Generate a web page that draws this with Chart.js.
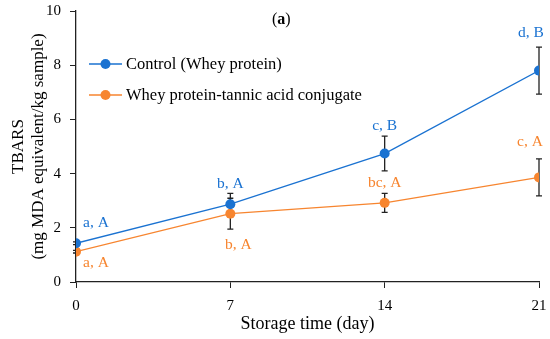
<!DOCTYPE html>
<html>
<head>
<meta charset="utf-8">
<title>TBARS vs storage time</title>
<script src="https://cdn.jsdelivr.net/npm/chart.js"></script>
<style>
  body { margin: 0; background: #fff; }
  .wrap { position: relative; width: 550px; height: 339px; }
</style>
</head>
<body>
<div class="wrap"><canvas id="tbars"></canvas></div>
<script>
// values
const days = [0, 7, 14, 21];
const controlMean = [1.43, 2.87, 4.74, 7.80];
const controlErr = [0.05, 0.40, 0.64, 0.87];
const conjugateMean = [1.12, 2.52, 2.92, 3.86];
const conjugateErr = [0.05, 0.57, 0.35, 0.68];
const controlLetters = ['a, A', 'b, A', 'c, B', 'd, B'];
const conjugateLetters = ['a, A', 'b, A', 'bc, A', 'c, A'];
const seriesNames = ['Control (Whey protein)', 'Whey protein-tannic acid conjugate'];
const yTicks = [0, 2, 4, 6, 8, 10];

const BLUE = '#1a72d1';
const ORANGE = '#f7852f';
const FONT = "'Liberation Serif', 'Times New Roman', serif";

// where each letter label sits relative to its point
const controlPlace = [[7, -20, 'left'], [0, -20, 'center'], [0, -28, 'center'], [-8, -38, 'center']];
const conjugatePlace = [[7, 11, 'left'], [8, 31, 'center'], [0, -20, 'center'], [-9, -35, 'center']];

const errPlugin = {
  id: 'errBars',
  beforeDatasetsDraw(chart) {
    const ctx = chart.ctx, xs = chart.scales.x, ys = chart.scales.y;
    const sets = [[controlMean, controlErr], [conjugateMean, conjugateErr]];
    ctx.save();
    ctx.strokeStyle = '#222';
    ctx.lineWidth = 1.3;
    sets.forEach(([m, e]) => {
      days.forEach((d, i) => {
        const x = xs.getPixelForValue(d);
        const yt = ys.getPixelForValue(m[i] + e[i]);
        const yb = ys.getPixelForValue(m[i] - e[i]);
        ctx.beginPath();
        ctx.moveTo(x, yt); ctx.lineTo(x, yb);
        ctx.moveTo(x - 3, yt); ctx.lineTo(x + 3, yt);
        ctx.moveTo(x - 3, yb); ctx.lineTo(x + 3, yb);
        ctx.stroke();
      });
    });
    ctx.restore();
  },
  afterDatasetsDraw(chart) {
    const ctx = chart.ctx, xs = chart.scales.x, ys = chart.scales.y;
    ctx.save();
    ctx.font = '15.5px ' + FONT;
    ctx.textBaseline = 'middle';
    const drawLetters = (m, letters, place, color) => {
      ctx.fillStyle = color;
      days.forEach((d, i) => {
        const [dx, dy, al] = place[i];
        ctx.textAlign = al;
        ctx.fillText(letters[i], xs.getPixelForValue(d) + dx, ys.getPixelForValue(m[i]) + dy);
      });
    };
    drawLetters(controlMean, controlLetters, controlPlace, BLUE);
    drawLetters(conjugateMean, conjugateLetters, conjugatePlace, ORANGE);

    // legend: line with marker, inside plot
    const colors = [BLUE, ORANGE];
    const rows = [64, 95];
    ctx.textAlign = 'left';
    ctx.font = '16.5px ' + FONT;
    seriesNames.forEach((name, i) => {
      ctx.strokeStyle = colors[i];
      ctx.lineWidth = 1.3;
      ctx.beginPath();
      ctx.moveTo(89, rows[i]); ctx.lineTo(122, rows[i]);
      ctx.stroke();
      ctx.fillStyle = colors[i];
      ctx.beginPath();
      ctx.arc(105.5, rows[i], 5, 0, Math.PI * 2);
      ctx.fill();
      ctx.fillStyle = '#000';
      ctx.fillText(name, 126, rows[i] + 1);
    });

    // panel label (a)
    ctx.fillStyle = '#000';
    ctx.font = '16px ' + FONT;
    const w1 = ctx.measureText('(').width;
    ctx.fillText('(', 272, 20);
    ctx.font = 'bold 16px ' + FONT;
    const w2 = ctx.measureText('a').width;
    ctx.fillText('a', 272 + w1, 20);
    ctx.font = '16px ' + FONT;
    ctx.fillText(')', 272 + w1 + w2, 20);
    ctx.restore();
  }
};

new Chart(document.getElementById('tbars'), {
  type: 'line',
  data: {
    datasets: [
      { label: seriesNames[0], data: days.map((d, i) => ({ x: d, y: controlMean[i] })),
        borderColor: BLUE, backgroundColor: BLUE, borderWidth: 1.3, pointRadius: 5, pointBorderWidth: 0, tension: 0 },
      { label: seriesNames[1], data: days.map((d, i) => ({ x: d, y: conjugateMean[i] })),
        borderColor: ORANGE, backgroundColor: ORANGE, borderWidth: 1.3, pointRadius: 5, pointBorderWidth: 0, tension: 0 }
    ]
  },
  options: {
    responsive: true,
    maintainAspectRatio: false,
    animation: false,
    layout: { padding: { top: 11, right: 11, left: 0, bottom: 0 } },
    plugins: { legend: { display: false }, tooltip: { enabled: false } },
    scales: {
      x: {
        type: 'linear', min: 0, max: 21,
        afterBuildTicks: s => { s.ticks = days.map(v => ({ value: v })); },
        afterFit: s => { s.height = 57; s.paddingLeft = 0; s.paddingRight = 0; },
        grid: { drawOnChartArea: false, drawTicks: true, tickLength: 6, color: '#222' },
        border: { display: true, color: '#222', width: 1.3 },
        ticks: { color: '#000', font: { family: FONT, size: 15 }, padding: 9, maxRotation: 0 },
        title: { display: true, text: 'Storage time (day)', color: '#000', font: { family: FONT, size: 18 }, padding: { top: 0, bottom: 4 } }
      },
      y: {
        min: 0, max: 10,
        afterBuildTicks: s => { s.ticks = yTicks.map(v => ({ value: v })); },
        afterFit: s => { s.width = 76; s.paddingTop = 0; s.paddingBottom = 0; },
        grid: { drawOnChartArea: false, drawTicks: true, tickLength: 6, color: '#222' },
        border: { display: true, color: '#222', width: 1.3 },
        ticks: { color: '#000', font: { family: FONT, size: 15 }, padding: 9 },
        title: { display: true, text: ['TBARS', '(mg MDA equivalent/kg sample)'], color: '#000', font: { family: FONT, size: 17 }, padding: { top: 8, bottom: 0 } }
      }
    }
  },
  plugins: [errPlugin]
});
</script>
</body>
</html>
